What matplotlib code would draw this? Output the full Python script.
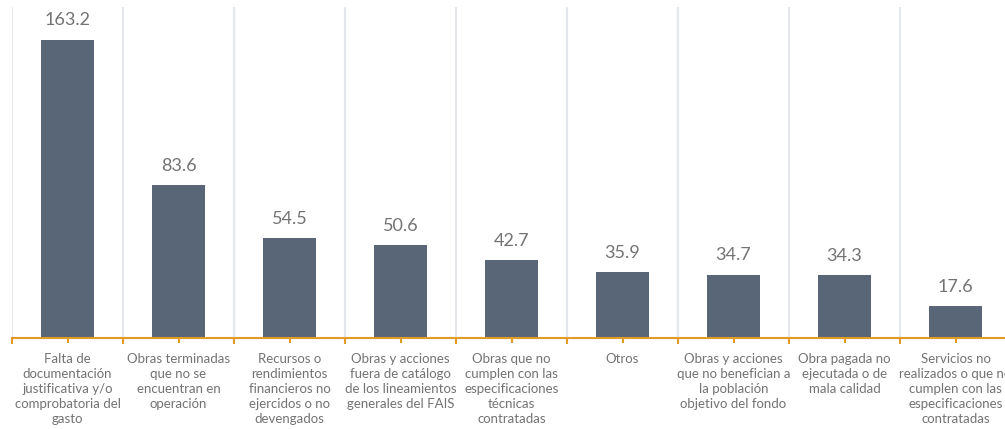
import numpy as np
import matplotlib.pyplot as plt
from matplotlib.ticker import FixedLocator

CATEGORIES = [
    "Falta de\ndocumentación\njustificativa y/o\ncomprobatoria del\ngasto",
    "Obras terminadas\nque no se\nencuentran en\noperación",
    "Recursos o\nrendimientos\nfinancieros no\nejercidos o no\ndevengados",
    "Obras y acciones\nfuera de catálogo\nde los lineamientos\ngenerales del FAIS",
    "Obras que no\ncumplen con las\nespecificaciones\ntécnicas\ncontratadas",
    "Otros",
    "Obras y acciones\nque no benefician a\nla población\nobjetivo del fondo",
    "Obra pagada no\nejecutada o de\nmala calidad",
    "Servicios no\nrealizados o que no\ncumplen con las\nespecificaciones\ncontratadas",
]
VALUES = [163.2, 83.6, 54.5, 50.6, 42.7, 35.9, 34.7, 34.3, 17.6]

BAR_COLOR = "#586678"
AXIS_COLOR = "#E49B26"
GRID_COLOR = "#E4E7EB"
TEXT_COLOR = "#737373"

plt.rcParams["font.family"] = ["Lato", "DejaVu Sans"]

fig = plt.figure(figsize=(10.05, 4.29), dpi=100)
ax = fig.add_axes([12 / 1005, 91 / 429, 999 / 1005, 331 / 429])

x = np.arange(len(VALUES))
ax.bar(x, VALUES, width=0.48, color=BAR_COLOR, zorder=3)

for xi, v in zip(x, VALUES):
    ax.annotate(f"{v:.1f}", (xi, v), xytext=(0, 8), textcoords="offset points",
                ha="center", va="bottom", fontsize=13, color=TEXT_COLOR)

ax.set_xlim(-0.5, len(VALUES) - 0.5)
ax.set_ylim(0, 181)

ax.set_xticks(x)
ax.set_xticklabels(CATEGORIES, fontsize=9.5, color=TEXT_COLOR, linespacing=1.32)
ax.xaxis.set_minor_locator(FixedLocator(np.arange(len(VALUES) + 1) - 0.5))
ax.tick_params(axis="x", which="major", direction="inout", length=7, width=1.5,
               color=AXIS_COLOR, pad=7)
ax.tick_params(axis="x", which="minor", direction="out", length=4, width=1.5,
               color=AXIS_COLOR)
ax.grid(axis="x", which="minor", color=GRID_COLOR, linewidth=1.5, zorder=0)
ax.grid(axis="x", which="major", visible=False)

ax.set_yticks([])
for side in ("top", "right", "left"):
    ax.spines[side].set_visible(False)
ax.spines["bottom"].set_color(AXIS_COLOR)
ax.spines["bottom"].set_linewidth(1.5)
ax.spines["bottom"].set_zorder(4)

fig.savefig("out.png", dpi=100)
